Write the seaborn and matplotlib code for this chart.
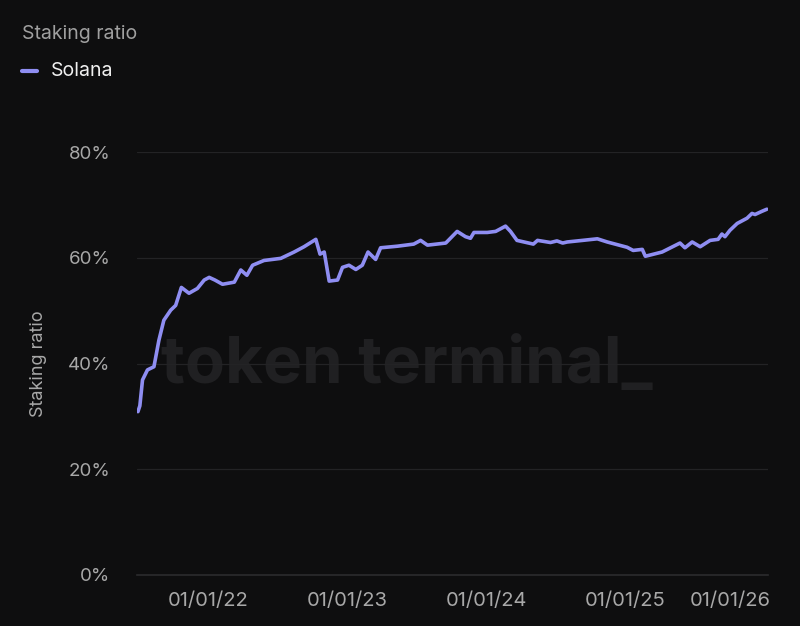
import matplotlib
matplotlib.use("Agg")
import matplotlib.pyplot as plt
import matplotlib.dates as mdates
import matplotlib.transforms as mtransforms
import seaborn as sns
import pandas as pd

dates = ["2021-07-01","2021-07-06","2021-07-13","2021-07-26","2021-08-12","2021-08-25",
         "2021-09-07","2021-09-25","2021-10-08","2021-10-23","2021-11-12","2021-12-04",
         "2021-12-22","2022-01-04","2022-01-19","2022-02-08","2022-03-11","2022-03-28",
         "2022-04-13","2022-04-28","2022-05-28","2022-07-11","2022-08-15","2022-09-10",
         "2022-10-11","2022-10-22","2022-11-02","2022-11-15","2022-12-07","2022-12-20",
         "2023-01-06","2023-01-24","2023-02-10","2023-02-25","2023-03-17","2023-03-30",
         "2023-05-13","2023-06-25","2023-07-13","2023-07-31","2023-09-17","2023-10-17",
         "2023-11-08","2023-11-21","2023-11-30","2024-01-04","2024-01-26","2024-02-21",
         "2024-03-05","2024-03-22","2024-05-04","2024-05-15","2024-06-18","2024-07-05",
         "2024-07-20","2024-08-01","2024-09-10","2024-10-19","2024-11-14","2025-01-05",
         "2025-01-21","2025-02-14","2025-02-22","2025-04-07","2025-05-24","2025-06-06",
         "2025-06-25","2025-07-16","2025-08-11","2025-09-01","2025-09-11","2025-09-19",
         "2025-10-02","2025-10-21","2025-11-16","2025-11-29","2025-12-07","2025-12-25",
         "2026-01-07"]
solana = [30.9,32.0,36.9,38.8,39.4,44.4,48.2,50.1,51.0,54.4,53.3,54.2,
          55.8,56.3,55.8,55.0,55.4,57.7,56.7,58.6,59.5,59.9,61.1,62.1,
          63.5,60.7,61.1,55.6,55.8,58.2,58.6,57.8,58.6,61.1,59.7,61.9,
          62.2,62.6,63.3,62.4,62.8,65.0,64.0,63.7,64.8,64.8,65.0,66.0,
          65.0,63.3,62.6,63.3,62.9,63.2,62.8,63.0,63.3,63.6,63.0,62.0,
          61.4,61.6,60.3,61.1,62.8,61.9,63.0,62.1,63.3,63.5,64.5,64.0,
          65.2,66.5,67.5,68.4,68.2,68.8,69.2]
yticks = [0, 20, 40, 60, 80]
xticks = ["2022-01-01","2023-01-01","2024-01-01","2025-01-01","2026-01-01"]

df = pd.DataFrame({"date": pd.to_datetime(dates), "Solana": solana})

BG = "#0e0e0f"
LINE = "#8f8ef2"
GREY = "#a8a8a8"
sns.set_theme(style="dark")
plt.rcParams["font.family"] = ["Inter", "DejaVu Sans"]

fig = plt.figure(figsize=(8, 6.26), dpi=100, facecolor=BG)
ax = fig.add_axes([0.171, 0.0815, 0.789, 0.6755])
ax.set_facecolor(BG)

sns.lineplot(data=df, x="date", y="Solana", ax=ax, color=LINE, linewidth=2.6,
             legend=False, zorder=3)

ax.set_ylim(0, 80)
ax.set_xlim(pd.Timestamp("2021-06-28"), pd.Timestamp("2026-01-10"))
ax.set_yticks(yticks)
ax.set_yticklabels([f"{v}%" for v in yticks])
ax.set_xticks(pd.to_datetime(xticks))
ax.xaxis.set_major_formatter(mdates.DateFormatter("%d/%m/%y"))
for v in yticks[1:]:
    ax.axhline(v, color="#232325", linewidth=0.9, zorder=1)

for s in ["top", "right", "left"]:
    ax.spines[s].set_visible(False)
ax.spines["bottom"].set_color("#2c2c2e")
ax.spines["bottom"].set_linewidth(1.2)
ax.tick_params(axis="y", length=0, pad=19, labelsize=13.5, labelcolor=GREY)
ax.tick_params(axis="x", length=7, width=1, color="#2c2c2e", pad=5, labelsize=14.5, labelcolor=GREY)
ax.grid(False)

fig.canvas.draw()
xlabels = ax.get_xticklabels()
last = xlabels[-1]
last.set_horizontalalignment("right")
last.set_transform(last.get_transform() + mtransforms.ScaledTranslation(6/100, 0, fig.dpi_scale_trans))

ax.set_xlabel("")
ax.set_ylabel("Staking ratio", color=GREY, fontsize=13)
ax.yaxis.set_label_coords(-0.143, 0.5)

ax.text(0.509, 0.415, "token terminal_", color="#202022", fontsize=47, fontweight="bold",
        ha="center", va="center", zorder=0.5, transform=fig.transFigure)

fig.text(0.0275, 0.9457, "Staking ratio", color="#a0a0a0", fontsize=14, va="center")
fig.add_artist(plt.Line2D([0.028, 0.046], [0.8866, 0.8866], color=LINE, linewidth=3))
fig.text(0.064, 0.8866, "Solana", color="#f0f0f0", fontsize=14, va="center")

fig.savefig("out.png", dpi=100, facecolor=BG)
